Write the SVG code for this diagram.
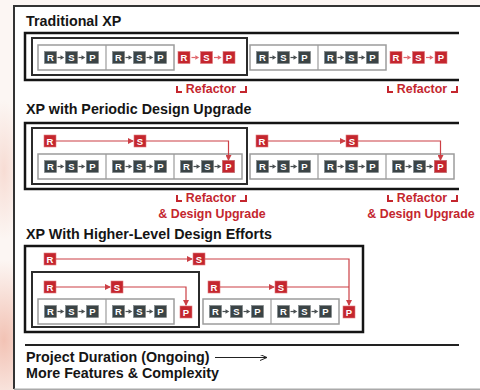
<svg xmlns="http://www.w3.org/2000/svg" xmlns:xlink="http://www.w3.org/1999/xlink" width="480" height="390" viewBox="0 0 480 390">
<style>
.ttl{font-family:"Liberation Sans",Arial,sans-serif;font-weight:bold;font-size:14.3px;fill:#151515}
.lbl{font-family:"Liberation Sans",Arial,sans-serif;font-weight:bold;font-size:12.4px;fill:#c4262e;text-anchor:middle}
.cl{font-family:"Liberation Sans",Arial,sans-serif;font-weight:bold;font-size:9.5px;fill:#fff;text-anchor:middle}
.k{fill:#3b4446;stroke:#7d8486;stroke-width:0.6}
.r{fill:#c4262e;stroke:#e07a7e;stroke-width:0.6}
.sa{stroke:#4a5052;stroke-width:1.2;fill:none}
.sh{fill:#4a5052}
.ra{stroke:#e0666c;stroke-width:1.2;fill:none}
.rh{fill:#e0666c}
.lt{fill:#fff;stroke:#9c9c9c;stroke-width:1.5}
.dk{fill:none;stroke:#2b2b2b;stroke-width:2}
.sec{fill:none;stroke:#141414;stroke-width:2.5}
.cn{fill:none;stroke:#cc3f45;stroke-width:1.2}
.mk{fill:none;stroke:#c4262e;stroke-width:2}
</style>
<defs>
<radialGradient id="pk" cx="0.5" cy="0.5" r="0.5">
<stop offset="0" stop-color="#f2c2b4"/>
<stop offset="1" stop-color="#f2c2b4" stop-opacity="0"/>
</radialGradient>
<marker id="ah" markerWidth="6" markerHeight="6" refX="5" refY="3" orient="auto" markerUnits="userSpaceOnUse">
<path d="M0,0 L6,3 L0,6 z" fill="#cc3f45"/>
</marker>
<marker id="ab" markerWidth="8" markerHeight="6" refX="7" refY="3" orient="auto" markerUnits="userSpaceOnUse">
<path d="M0,0 L7,3 L0,6" fill="none" stroke="#222" stroke-width="1"/>
</marker>
<g id="rsp">
<rect class="k" x="6.5" y="6.5" width="12" height="12"/><text class="cl" x="12.5" y="16">R</text>
<path class="sa" d="M19.5,12.5h3.5"/><path class="sh" d="M22.5,10.3l3.8,2.2l-3.8,2.2z"/>
<rect class="k" x="27.5" y="6.5" width="12" height="12"/><text class="cl" x="33.5" y="16">S</text>
<path class="sa" d="M40.5,12.5h3.5"/><path class="sh" d="M43.5,10.3l3.8,2.2l-3.8,2.2z"/>
<rect class="k" x="48.5" y="6.5" width="12" height="12"/><text class="cl" x="54.5" y="16">P</text>
</g>
<g id="rspR">
<rect class="r" x="0" y="0" width="12" height="12"/><text class="cl" x="6" y="9.5">R</text>
<path class="ra" d="M13.5,6h4"/><path class="rh" d="M17.3,3.8l3.8,2.2l-3.8,2.2z"/>
<rect class="r" x="22.5" y="0" width="12" height="12"/><text class="cl" x="28.5" y="9.5">S</text>
<path class="ra" d="M36,6h4"/><path class="rh" d="M39.8,3.8l3.8,2.2l-3.8,2.2z"/>
<rect class="r" x="45" y="0" width="12" height="12"/><text class="cl" x="51" y="9.5">P</text>
</g>
</defs>

<rect x="0" y="0" width="480" height="390" fill="#fcf6f3"/>
<ellipse cx="4" cy="340" rx="40" ry="80" fill="url(#pk)"/>
<ellipse cx="4" cy="170" rx="20" ry="70" fill="url(#pk)" opacity="0.5"/>

<g id="panel">
<rect x="14" y="6" width="470" height="383" fill="#fff"/>
<path d="M14,389 V6 H480" fill="none" stroke="#333" stroke-width="2"/>
<path d="M14,389.2 H480" stroke="#aaa" stroke-width="1.5"/>
</g>

<!-- Section 1 -->
<g id="sec1">
<text class="ttl" x="26" y="26">Traditional XP</text>
<path class="sec" d="M459,33 H25 V80 H459"/>
<g id="s1g1">
<rect class="dk" x="32" y="38" width="215" height="37"/>
<rect class="lt" x="38" y="45" width="136" height="25"/>
<path d="M106,45 V70" stroke="#9c9c9c" stroke-width="1.2"/>
<use xlink:href="#rsp" x="38" y="45"/>
<use xlink:href="#rsp" x="106" y="45"/>
<use xlink:href="#rspR" x="178" y="51.5"/>
</g>
<g id="s1g2">
<rect class="lt" x="250" y="45" width="136" height="25"/>
<path d="M318,45 V70" stroke="#9c9c9c" stroke-width="1.2"/>
<use xlink:href="#rsp" x="250" y="45"/>
<use xlink:href="#rsp" x="318" y="45"/>
<use xlink:href="#rspR" x="390" y="51.5"/>
</g>
<g id="s1l1">
<path class="mk" d="M177,86 V92 H182"/><path class="mk" d="M240,92 H246 V86"/>
<text class="lbl" x="211" y="93">Refactor</text>
</g>
<g id="s1l2">
<path class="mk" d="M388,86 V92 H393"/><path class="mk" d="M451,92 H457 V86"/>
<text class="lbl" x="422" y="93">Refactor</text>
</g>
</g>

<!-- Section 2 -->
<g id="sec2">
<text class="ttl" x="26" y="114">XP with Periodic Design Upgrade</text>
<path class="sec" d="M459,123 H25 V189 H459"/>
<g id="s2g1">
<rect class="dk" x="32" y="128" width="215" height="56"/>
<rect class="lt" x="38" y="154" width="204" height="25"/>
<path d="M106,154 V179 M174,154 V179" stroke="#9c9c9c" stroke-width="1.2"/>
<use xlink:href="#rsp" x="38" y="154"/>
<use xlink:href="#rsp" x="106" y="154"/>
<use xlink:href="#rsp" x="174" y="154"/>
<rect class="r" x="222.5" y="160.5" width="12" height="12"/><text class="cl" x="228.5" y="170">P</text>
<rect class="r" x="44" y="135" width="12" height="12"/><text class="cl" x="50" y="144.5">R</text>
<rect class="r" x="134" y="135" width="12" height="12"/><text class="cl" x="140" y="144.5">S</text>
</g>
<g id="s2g2">
<rect class="lt" x="250" y="154" width="204" height="25"/>
<path d="M318,154 V179 M386,154 V179" stroke="#9c9c9c" stroke-width="1.2"/>
<use xlink:href="#rsp" x="250" y="154"/>
<use xlink:href="#rsp" x="318" y="154"/>
<use xlink:href="#rsp" x="386" y="154"/>
<rect class="r" x="434.5" y="160.5" width="12" height="12"/><text class="cl" x="440.5" y="170">P</text>
<rect class="r" x="256" y="135" width="12" height="12"/><text class="cl" x="262" y="144.5">R</text>
<rect class="r" x="346" y="135" width="12" height="12"/><text class="cl" x="352" y="144.5">S</text>
</g>
<g id="s2l1">
<path class="mk" d="M177,195 V201 H182"/><path class="mk" d="M240,201 H246 V195"/>
<text class="lbl" x="211" y="202">Refactor</text>
<text class="lbl" x="212" y="218">&amp; Design Upgrade</text>
</g>
<g id="s2l2">
<path class="mk" d="M388,195 V201 H393"/><path class="mk" d="M451,201 H457 V195"/>
<text class="lbl" x="422" y="202">Refactor</text>
<text class="lbl" x="421" y="218">&amp; Design Upgrade</text>
</g>
</g>

<!-- Section 3 -->
<g id="sec3">
<text class="ttl" x="26" y="239">XP With Higher-Level Design Efforts</text>
<rect class="sec" x="25" y="246" width="338" height="86"/>
<g id="s3top">
<rect class="r" x="44" y="253" width="12" height="12"/><text class="cl" x="50" y="262.5">R</text>
<rect class="r" x="193" y="253" width="12" height="12"/><text class="cl" x="199" y="262.5">S</text>
<rect class="r" x="343" y="306" width="12" height="12"/><text class="cl" x="349" y="315.5">P</text>
</g>
<g id="s3g1">
<rect class="dk" x="32" y="272" width="167" height="55"/>
<rect class="r" x="44" y="281" width="12" height="12"/><text class="cl" x="50" y="290.5">R</text>
<rect class="r" x="111" y="281" width="12" height="12"/><text class="cl" x="117" y="290.5">S</text>
<rect class="lt" x="38" y="299" width="136" height="25"/>
<path d="M106,299 V324" stroke="#9c9c9c" stroke-width="1.2"/>
<use xlink:href="#rsp" x="38" y="299"/>
<use xlink:href="#rsp" x="106" y="299"/>
<rect class="r" x="180" y="306" width="12" height="12"/><text class="cl" x="186" y="315.5">P</text>
</g>
<g id="s3g2">
<rect class="r" x="208" y="281" width="12" height="12"/><text class="cl" x="214" y="290.5">R</text>
<rect class="r" x="275" y="281" width="12" height="12"/><text class="cl" x="281" y="290.5">S</text>
<rect class="lt" x="203" y="299" width="136" height="25"/>
<path d="M271,299 V324" stroke="#9c9c9c" stroke-width="1.2"/>
<use xlink:href="#rsp" x="203" y="299"/>
<use xlink:href="#rsp" x="271" y="299"/>
</g>
</g>

<g id="connectors">
<path class="cn" d="M56,141 H133" marker-end="url(#ah)"/>
<path class="cn" d="M146,141 H228.5 V160" marker-end="url(#ah)"/>
<path class="cn" d="M268,141 H345" marker-end="url(#ah)"/>
<path class="cn" d="M358,141 H440.5 V160" marker-end="url(#ah)"/>
<path class="cn" d="M56,259 H192" marker-end="url(#ah)"/>
<path class="cn" d="M205,259 H349 V305" marker-end="url(#ah)"/>
<path class="cn" d="M56,287 H110" marker-end="url(#ah)"/>
<path class="cn" d="M123,287 H186 V305" marker-end="url(#ah)"/>
<path class="cn" d="M220,287 H274" marker-end="url(#ah)"/>
<path class="cn" d="M287,287 H349"/>
<path d="M215,357.5 H267" fill="none" stroke="#222" stroke-width="1.2" marker-end="url(#ab)"/>
</g>

<g id="footer">
<path d="M25,345 H459" stroke="#222" stroke-width="2"/>
<text class="ttl" x="26" y="362">Project Duration (Ongoing)</text>
<text class="ttl" x="26" y="378">More Features &amp; Complexity</text>
</g>
</svg>
